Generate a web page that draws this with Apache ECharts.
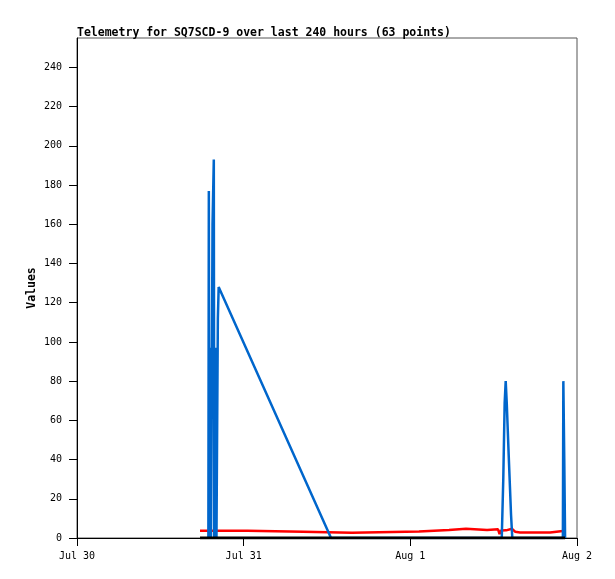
<!DOCTYPE html>
<html>
<head>
<meta charset="utf-8">
<script src="https://cdn.jsdelivr.net/npm/echarts@6/dist/echarts.min.js"></script>
<style>
  html, body { margin: 0; padding: 0; background: #fff; }
  #ct-container { width: 615px; height: 579px; }
</style>
</head>
<body>
<div id="ct-container"></div>
<script>
// x axis tick labels (one per day)
let dayLabels = ['Jul 30', 'Jul 31', 'Aug 1', 'Aug 2']
let axisStart = '2024-07-30 00:00'
let axisEnd = '2024-08-02 00:00'

// blue series
let blueTimes = [
  '2024-07-30 18:55', '2024-07-30 18:59', '2024-07-30 19:04', '2024-07-30 19:13',
  '2024-07-30 19:18', '2024-07-30 19:31', '2024-07-30 19:42', '2024-07-30 19:46',
  '2024-07-30 19:55', '2024-07-30 20:05', '2024-07-30 20:10', '2024-07-30 20:17',
  '2024-07-30 20:24', '2024-07-31 12:35', '2024-08-01 13:10', '2024-08-01 13:23',
  '2024-08-01 13:35', '2024-08-01 13:44', '2024-08-01 13:53', '2024-08-01 14:10',
  '2024-08-01 14:30', '2024-08-01 14:41', '2024-08-01 21:58', '2024-08-01 22:02',
  '2024-08-01 22:10', '2024-08-01 22:17'
]
let blueValues = [
  0, 177, 0, 97,
  0, 160, 193, 0,
  97, 0, 48, 112,
  128, 0, 0, 30,
  69, 80, 69, 42,
  12, 0, 0, 80,
  40, 0
]

// red series
let redTimes = [
  '2024-07-30 17:43', '2024-07-31 00:33', '2024-07-31 00:42', '2024-07-31 08:33',
  '2024-07-31 08:41', '2024-07-31 15:36', '2024-07-31 15:45', '2024-08-01 01:15',
  '2024-08-01 01:24', '2024-08-01 05:34', '2024-08-01 05:43', '2024-08-01 08:01',
  '2024-08-01 08:10', '2024-08-01 11:03', '2024-08-01 11:11', '2024-08-01 12:38',
  '2024-08-01 12:51', '2024-08-01 13:04', '2024-08-01 13:47', '2024-08-01 14:39',
  '2024-08-01 15:05', '2024-08-01 15:48', '2024-08-01 20:07', '2024-08-01 20:16',
  '2024-08-01 22:17'
]
let redValues = [
  3.7, 3.7, 3.2, 3.2,
  2.7, 2.7, 3.3, 3.3,
  4.1, 4.1, 4.7, 4.7,
  4.1, 4.1, 4.4, 4.4,
  2.0, 3.8, 3.9, 4.7,
  3.2, 2.8, 2.8, 3.7,
  3.7
]

// black series (flat at zero)
let blackTimes = ['2024-07-30 17:43', '2024-07-31 12:00', '2024-08-01 12:00', '2024-08-01 22:17']
let blackValues = [0, 0, 0, 0]

let mono = 'DejaVu Sans Mono'

function pairs (times, values) {
  return times.map((t, i) => [t, values[i]])
}

let chart = echarts.init(document.getElementById('ct-container'))

let opt = {
  backgroundColor: '#fff',
  animation: false,
  title: {
    text: 'Telemetry for SQ7SCD-9 over last 240 hours (63 points)',
    left: 72,
    top: 22,
    textStyle: { fontFamily: mono, fontSize: 11.5, fontWeight: 'bold', color: '#000' }
  },
  grid: {
    show: true,
    left: 77,
    right: 38,
    top: 38,
    bottom: 41,
    borderColor: '#555',
    borderWidth: 1
  },
  xAxis: {
    type: 'time',
    min: axisStart,
    max: axisEnd,
    minInterval: 86400000,
    maxInterval: 86400000,
    axisLine: { lineStyle: { color: '#000', width: 1 } },
    axisTick: { length: 8, lineStyle: { color: '#000' } },
    splitLine: { show: false },
    axisLabel: {
      margin: 13,
      fontFamily: mono,
      fontSize: 10,
      color: '#000',
      showMinLabel: true,
      showMaxLabel: true,
      hideOverlap: false,
      formatter: (val) => {
        let d = new Date(val)
        let idx = Math.round((d - new Date(axisStart)) / 86400000)
        return dayLabels[idx] || ''
      }
    }
  },
  yAxis: {
    type: 'value',
    min: 0,
    max: 255,
    interval: 20,
    name: 'Values',
    nameLocation: 'middle',
    nameGap: 39,
    nameMoveOverlap: false,
    nameTextStyle: { fontFamily: mono, fontSize: 11.5, fontWeight: 'bold', color: '#000' },
    axisLine: { show: true, lineStyle: { color: '#000', width: 1 } },
    axisTick: { show: true, length: 8, lineStyle: { color: '#000' } },
    splitLine: { show: false },
    axisLabel: {
      margin: 15,
      fontFamily: mono,
      fontSize: 10,
      color: '#000',
      showMaxLabel: false
    }
  },
  series: [
    {
      name: 'red',
      type: 'line',
      data: pairs(redTimes, redValues),
      showSymbol: false,
      z: 2,
      lineStyle: { color: '#ff0000', width: 2.5 }
    },
    {
      name: 'blue',
      type: 'line',
      data: pairs(blueTimes, blueValues),
      showSymbol: false,
      z: 3,
      lineStyle: { color: '#0066cc', width: 2.5 }
    },
    {
      name: 'black',
      type: 'line',
      data: pairs(blackTimes, blackValues),
      showSymbol: false,
      z: 4,
      lineStyle: { color: '#000', width: 3 }
    }
  ]
}

chart.setOption(opt)
</script>
</body>
</html>
